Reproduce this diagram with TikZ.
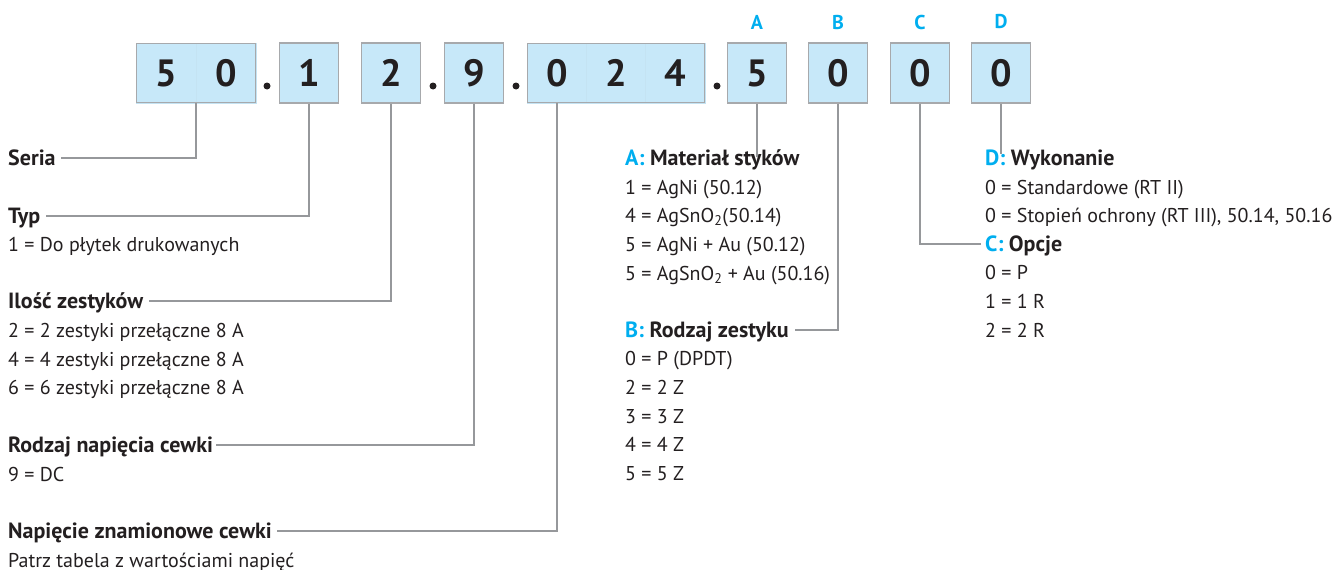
\documentclass[tikz,border=0pt]{standalone}
\usepackage{fontspec}
\setmainfont{PT Sans}
\usetikzlibrary{fit}
\definecolor{cellblue}{HTML}{C7E8F9}
\definecolor{cellgray}{HTML}{A7A9AC}
\definecolor{keycyan}{HTML}{00AEEF}
\definecolor{ink}{HTML}{231F20}
\tikzset{
  digit/.style={font=\fontsize{38}{40}\selectfont\bfseries, text=ink},
  cell/.style={digit, fill=cellblue, draw=cellgray, line width=1.3pt, minimum width=59pt, minimum height=60pt, inner sep=0pt},
  part/.style={digit, fill=cellblue, draw=cellblue!92!cellgray, line width=.4pt, minimum width=59.5pt, minimum height=60pt, inner sep=0pt},
  frame/.style={draw=cellgray, line width=1.3pt, inner sep=-.6pt},
  head/.style={anchor=base west, inner sep=0pt, text height=14pt, text depth=0pt, font=\fontsize{22}{24}\selectfont\bfseries, text=ink},
  item/.style={anchor=base west, inner sep=0pt, font=\fontsize{20}{24}\selectfont, text=ink},
  key/.style={font=\fontsize{20}{20}\selectfont\bfseries, text=keycyan},
  lead/.style={draw=cellgray!90!black, line width=1.2pt},
  sep/.style={circle, fill=ink, minimum size=7pt, inner sep=0pt}
}
\begin{document}
\begin{tikzpicture}[x=1pt,y=-1pt]
\useasboundingbox (0,0) rectangle (1339,570);
% code boxes
\node[part] (c5) at (166,73) {5};
\node[part] (c0) at (226,73) {0};
\node[frame, fit=(c5)(c0)] (serbox) {};
\node[cell] (typbox) at (309,73) {1};
\node[cell] (zesbox) at (391,73) {2};
\node[cell] (napbox) at (474,73) {9};
\node[part] (v0) at (557,73) {0};
\node[part] (v2) at (616,73) {2};
\node[part] (v4) at (675,73) {4};
\node[frame, fit=(v0)(v4)] (volbox) {};
\node[cell] (abox) at (757,73) {5};
\node[cell] (bbox) at (838,73) {0};
\node[cell] (cbox) at (920,73) {0};
\node[cell] (dbox) at (1001,73) {0};
\node[sep] (p1) at (267,86) {};
\node[sep] (p2) at (433,86) {};
\node[sep] (p3) at (516,86) {};
\node[sep] (p4) at (717,86) {};
\node[key] (ka) at (757,22) {A};
\node[key] (kb) at (838,22) {B};
\node[key] (kc) at (920,22) {C};
\node[key] (kd) at (1001,22) {D};
% left column
\node[head] (seria) at (8,165) {Seria};
\node[head] (typ) at (8,223) {Typ};
\node[item] (typ1) at (8,251) {1 = Do płytek drukowanych};
\node[head] (ilosc) at (8,308) {Ilość zestyków};
\node[item] (ilosc2) at (8,337) {2 = 2 zestyki przełączne 8 A};
\node[item] (ilosc4) at (8,366) {4 = 4 zestyki przełączne 8 A};
\node[item] (ilosc6) at (8,394) {6 = 6 zestyki przełączne 8 A};
\node[head] (rodzaj) at (8,452) {Rodzaj napięcia cewki};
\node[item] (rodzaj9) at (8,481) {9 = DC};
\node[head] (napiecie) at (8,538) {Napięcie znamionowe cewki};
\node[item] (patrz) at (8,567) {Patrz tabela z wartościami napięć};
% middle column
\node[head] (mat) at (625,165) {\textcolor{keycyan}{A:} Materiał styków};
\node[item] (mat1) at (625,194) {1 = AgNi (50.12)};
\node[item] (mat4) at (625,222) {4 = AgSnO\textsubscript{2}(50.14)};
\node[item] (mat5) at (625,251) {5 = AgNi + Au (50.12)};
\node[item] (mat5b) at (625,280) {5 = AgSnO\textsubscript{2} + Au (50.16)};
\node[head] (zest) at (625,337) {\textcolor{keycyan}{B:} Rodzaj zestyku};
\node[item] (zest0) at (625,365) {0 = P (DPDT)};
\node[item] (zest2) at (625,394) {2 = 2 Z};
\node[item] (zest3) at (625,423) {3 = 3 Z};
\node[item] (zest4) at (625,451) {4 = 4 Z};
\node[item] (zest5) at (625,480) {5 = 5 Z};
% right column
\node[head] (wyk) at (985,165) {\textcolor{keycyan}{D:} Wykonanie};
\node[item] (wyk0) at (985,194) {0 = Standardowe (RT II)};
\node[item] (wyk0b) at (985,222) {0 = Stopień ochrony (RT III), 50.14, 50.16};
\node[head] (opc) at (985,251) {\textcolor{keycyan}{C:} Opcje};
\node[item] (opc0) at (985,279) {0 = P};
\node[item] (opc1) at (985,308) {1 = 1 R};
\node[item] (opc2) at (985,337) {2 = 2 R};
% leaders
\draw[lead] (serbox.south) |- ([xshift=5pt]seria.east);
\draw[lead] (typbox.south) |- ([xshift=6pt]typ.east);
\draw[lead] (zesbox.south) |- ([xshift=6pt]ilosc.east);
\draw[lead] (napbox.south) |- ([xshift=3pt]rodzaj.east);
\draw[lead] (v0.south) |- ([xshift=5pt]napiecie.east);
\draw[lead] (abox.south) -- ([yshift=-6pt]abox.south |- mat.north);
\draw[lead] (bbox.south) |- ([xshift=6pt]zest.east);
\draw[lead] (cbox.south) |- ([xshift=-4pt]opc.west);
\draw[lead] (dbox.south) -- ([yshift=-3pt]dbox.south |- wyk.north);
\end{tikzpicture}
\end{document}
